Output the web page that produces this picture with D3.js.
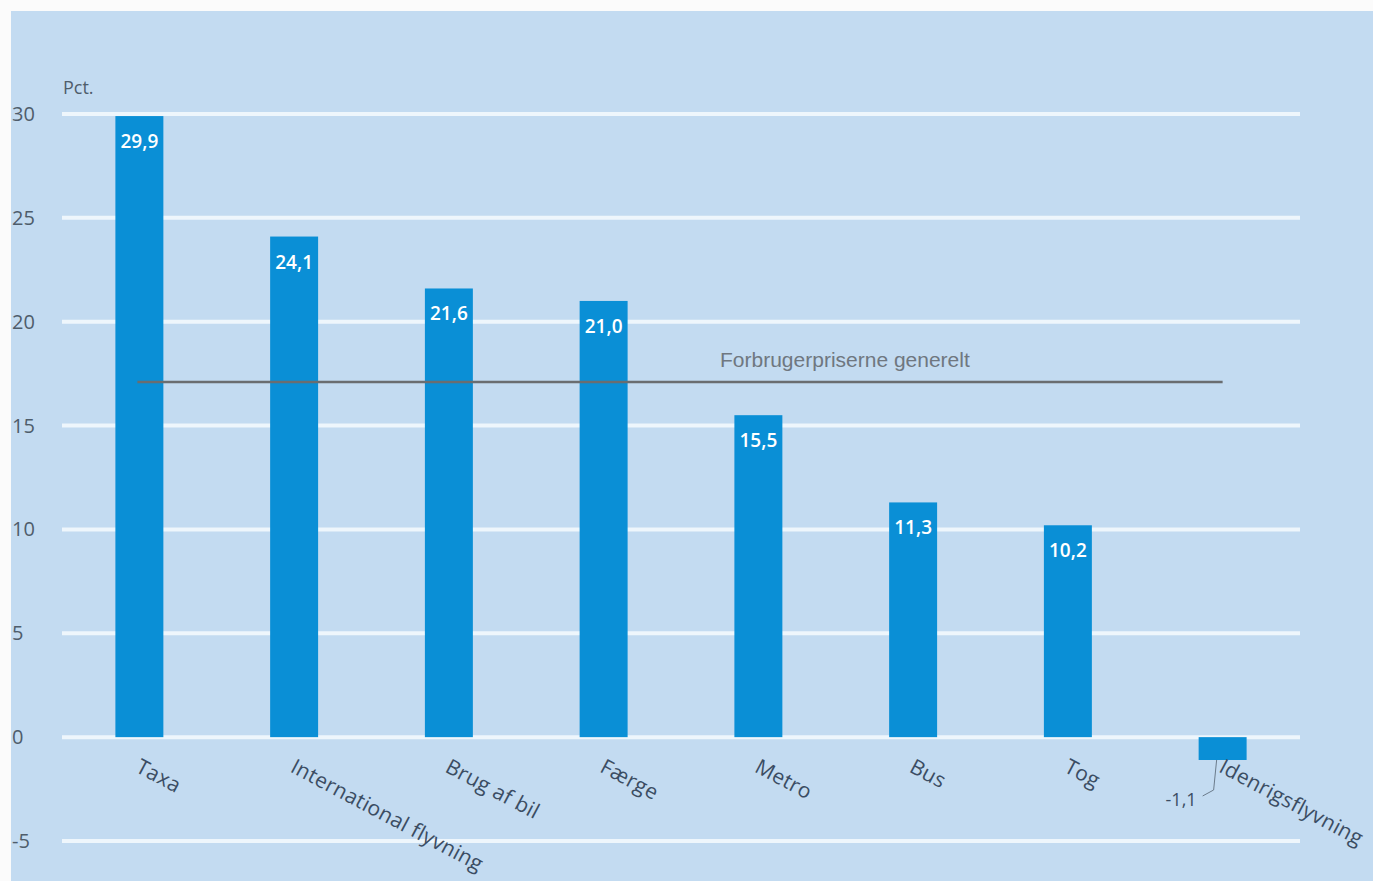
<!DOCTYPE html>
<html>
<head>
<meta charset="utf-8">
<script src="https://cdn.jsdelivr.net/npm/d3@7"></script>
<style>
  body { margin: 0; background: #fbfbfb; }
  svg { display: block; }
</style>
</head>
<body>
<div id="bar_chart"></div>
<script>
// --------------------------------------
//  Data
// --------------------------------------

const categories = ["Taxa", "International flyvning", "Brug af bil", "Færge", "Metro", "Bus", "Tog", "Idenrigsflyvning"];
const values = [29.9, 24.1, 21.6, 21.0, 15.5, 11.3, 10.2, -1.1];
const yTicks = [-5, 0, 5, 10, 15, 20, 25, 30];
const refValue = 17.1;
const refLabel = "Forbrugerpriserne generelt";
const unitLabel = "Pct.";

const width = 1373, height = 881;

// --------------------------------------
//  Canvas
// --------------------------------------

const svg = d3.select("#bar_chart")
  .append("svg")
  .attr("width", width)
  .attr("height", height);

svg.append("rect")
  .attr("x", 11).attr("y", 11)
  .attr("width", width - 11).attr("height", height - 11)
  .attr("fill", "#c3dbf1");

const x = d3.scaleBand()
  .domain(categories)
  .range([62, 1300])
  .paddingInner(0.69)
  .paddingOuter(0.345);

const y = d3.scaleLinear()
  .domain([-5, 30])
  .range([841, 114]);

// gridlines
svg.append("g")
  .selectAll("line")
  .data(yTicks)
  .join("line")
    .attr("x1", 62).attr("x2", 1300)
    .attr("y1", d => y(d)).attr("y2", d => y(d))
    .attr("stroke", "#eef6fc")
    .attr("stroke-width", 4);

// y tick labels
svg.append("g")
  .selectAll("text")
  .data(yTicks)
  .join("text")
    .attr("x", 12)
    .attr("y", d => y(d))
    .attr("dy", "0.35em")
    .attr("font-family", "Open Sans, sans-serif")
    .attr("font-size", 20)
    .attr("fill", "#4f5d6b")
    .text(d => d);

svg.append("text")
  .attr("x", 63).attr("y", 94)
  .attr("font-family", "Open Sans, sans-serif")
  .attr("font-size", 18)
  .attr("fill", "#4f5d6b")
  .text(unitLabel);

// bars
svg.append("g")
  .selectAll("rect")
  .data(values)
  .join("rect")
    .attr("x", (d, i) => x(categories[i]))
    .attr("y", d => y(Math.max(0, d)))
    .attr("width", x.bandwidth())
    .attr("height", d => Math.abs(y(d) - y(0)))
    .attr("fill", "#0a8fd6");

// value labels
svg.append("g")
  .selectAll("text")
  .data(values.filter(d => d > 0))
  .join("text")
    .attr("x", (d, i) => x(categories[i]) + x.bandwidth() / 2)
    .attr("y", d => y(d) + 32)
    .attr("text-anchor", "middle")
    .attr("font-family", "Open Sans, sans-serif")
    .attr("font-size", 19)
    .attr("font-weight", 600)
    .attr("fill", "#ffffff")
    .text(d => d.toFixed(1).replace(".", ","));

// negative value label with leader line
const ni = values.length - 1;
const nx = x(categories[ni]) + x.bandwidth() / 2;
svg.append("path")
  .attr("d", `M${nx - 6},${y(values[ni])} L${nx - 9},${y(values[ni]) + 30} L${nx - 20},${y(values[ni]) + 36}`)
  .attr("fill", "none")
  .attr("stroke", "#6b7b8b")
  .attr("stroke-width", 1);
svg.append("text")
  .attr("x", nx - 26).attr("y", y(values[ni]) + 46)
  .attr("text-anchor", "end")
  .attr("font-family", "Open Sans, sans-serif")
  .attr("font-size", 18)
  .attr("fill", "#3b4d63")
  .text(values[ni].toFixed(1).replace(".", ","));

// reference line
svg.append("line")
  .attr("x1", x(categories[0]) + x.bandwidth() / 2 - 2)
  .attr("x2", x(categories[ni]) + x.bandwidth() / 2)
  .attr("y1", y(refValue)).attr("y2", y(refValue))
  .attr("stroke", "#6a6d70")
  .attr("stroke-width", 2.5);

svg.append("text")
  .attr("x", 720).attr("y", y(refValue) - 15)
  .attr("font-family", "Liberation Sans Narrow, Liberation Sans, sans-serif")
  .attr("font-size", 21)
  .attr("fill", "#6f7780")
  .text(refLabel);

// category labels (rotated)
svg.append("g")
  .selectAll("text")
  .data(categories)
  .join("text")
    .attr("transform", d => `translate(${x(d) + x.bandwidth() / 2 - 5},${y(0) + 34}) rotate(28)`)
    .attr("font-family", "Open Sans, sans-serif")
    .attr("font-size", 21)
    .attr("letter-spacing", 0.3)
    .attr("fill", "#3b4d63")
    .text(d => d);
</script>
</body>
</html>
